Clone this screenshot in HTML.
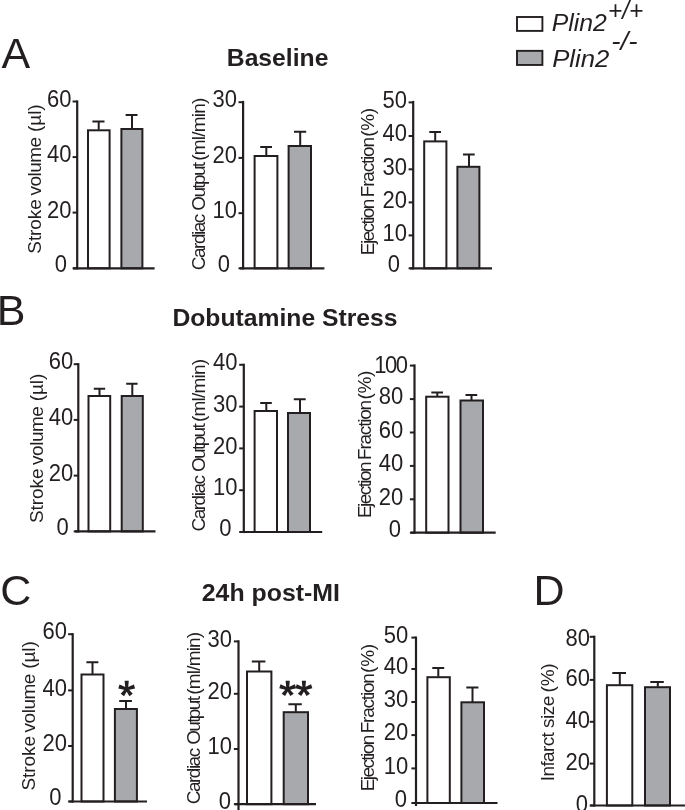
<!DOCTYPE html>
<html><head><meta charset="utf-8"><title>Figure</title>
<style>
html,body{margin:0;padding:0;background:#fff;}
svg{display:block;font-family:"Liberation Sans", sans-serif;fill:#231f20;will-change:transform;transform:translateZ(0);}
</style></head><body>
<svg width="685" height="810" viewBox="0 0 685 810">
<rect x="0" y="0" width="685" height="810" fill="#ffffff"/>
<rect x="88.00" y="130.30" width="21.60" height="138.00" fill="#ffffff" stroke="#231f20" stroke-width="2.0"/>
<rect x="121.40" y="129.00" width="21.00" height="139.30" fill="#a7a9ac" stroke="#231f20" stroke-width="2.0"/>
<path d="M98.70 129.80V121.60M92.40 121.60H104.50" stroke="#231f20" stroke-width="2" fill="none"/>
<path d="M132.00 128.50V115.00M125.60 115.00H137.50" stroke="#231f20" stroke-width="2" fill="none"/>
<path d="M77.20 100.40V269.40" stroke="#231f20" stroke-width="2.2" fill="none"/>
<path d="M73.00 268.30H154.60" stroke="#231f20" stroke-width="2.2" fill="none"/>
<path d="M72.60 101.50H77.20" stroke="#231f20" stroke-width="2" fill="none"/>
<text transform="translate(71.50 106.70) scale(1 1.07)" font-size="22" text-anchor="end">60</text>
<path d="M72.60 157.10H77.20" stroke="#231f20" stroke-width="2" fill="none"/>
<text transform="translate(71.50 162.30) scale(1 1.07)" font-size="22" text-anchor="end">40</text>
<path d="M72.60 212.60H77.20" stroke="#231f20" stroke-width="2" fill="none"/>
<text transform="translate(71.50 217.80) scale(1 1.07)" font-size="22" text-anchor="end">20</text>
<path d="M72.60 268.30H77.20" stroke="#231f20" stroke-width="2" fill="none"/>
<text transform="translate(66.90 272.10) scale(1 1.07)" font-size="22" text-anchor="end">0</text>
<text transform="translate(41.00 253.70) rotate(-90)" font-size="19" textLength="54.50" lengthAdjust="spacing">Stroke</text>
<text transform="translate(41.00 195.60) rotate(-90)" font-size="19" textLength="58.80" lengthAdjust="spacing">volume</text>
<text transform="translate(41.00 131.90) rotate(-90)" font-size="19" textLength="27.50" lengthAdjust="spacing">(µl)</text>
<rect x="254.60" y="156.00" width="22.80" height="112.30" fill="#ffffff" stroke="#231f20" stroke-width="2.0"/>
<rect x="288.60" y="146.00" width="22.40" height="122.30" fill="#a7a9ac" stroke="#231f20" stroke-width="2.0"/>
<path d="M266.30 155.50V147.00M260.20 147.00H272.00" stroke="#231f20" stroke-width="2" fill="none"/>
<path d="M300.20 145.50V131.70M294.00 131.70H306.20" stroke="#231f20" stroke-width="2" fill="none"/>
<path d="M243.10 100.90V269.40" stroke="#231f20" stroke-width="2.2" fill="none"/>
<path d="M239.80 268.30H324.40" stroke="#231f20" stroke-width="2.2" fill="none"/>
<path d="M238.50 102.20H243.10" stroke="#231f20" stroke-width="2" fill="none"/>
<text transform="translate(237.00 107.40) scale(1 1.07)" font-size="22" text-anchor="end">30</text>
<path d="M238.50 157.90H243.10" stroke="#231f20" stroke-width="2" fill="none"/>
<text transform="translate(237.00 163.10) scale(1 1.07)" font-size="22" text-anchor="end">20</text>
<path d="M238.50 213.20H243.10" stroke="#231f20" stroke-width="2" fill="none"/>
<text transform="translate(237.00 218.40) scale(1 1.07)" font-size="22" text-anchor="end">10</text>
<path d="M238.50 268.30H243.10" stroke="#231f20" stroke-width="2" fill="none"/>
<text transform="translate(230.00 272.10) scale(1 1.07)" font-size="22" text-anchor="end">0</text>
<text transform="translate(204.50 270.20) rotate(-90)" font-size="19" textLength="56.50" lengthAdjust="spacing">Cardiac</text>
<text transform="translate(204.50 210.70) rotate(-90)" font-size="19" textLength="48.80" lengthAdjust="spacing">Output</text>
<text transform="translate(204.50 160.70) rotate(-90)" font-size="19" textLength="63.00" lengthAdjust="spacing">(ml/min)</text>
<rect x="424.20" y="141.40" width="22.20" height="126.90" fill="#ffffff" stroke="#231f20" stroke-width="2.0"/>
<rect x="457.40" y="166.80" width="22.00" height="101.50" fill="#a7a9ac" stroke="#231f20" stroke-width="2.0"/>
<path d="M435.20 140.90V132.00M429.30 132.00H441.00" stroke="#231f20" stroke-width="2" fill="none"/>
<path d="M469.00 166.30V154.50M463.00 154.50H474.70" stroke="#231f20" stroke-width="2" fill="none"/>
<path d="M413.20 100.90V269.40" stroke="#231f20" stroke-width="2.2" fill="none"/>
<path d="M410.00 268.30H492.00" stroke="#231f20" stroke-width="2.2" fill="none"/>
<path d="M408.60 102.40H413.20" stroke="#231f20" stroke-width="2" fill="none"/>
<text transform="translate(407.00 107.60) scale(1 1.07)" font-size="22" text-anchor="end">50</text>
<path d="M408.60 136.00H413.20" stroke="#231f20" stroke-width="2" fill="none"/>
<text transform="translate(407.00 141.20) scale(1 1.07)" font-size="22" text-anchor="end">40</text>
<path d="M408.60 169.30H413.20" stroke="#231f20" stroke-width="2" fill="none"/>
<text transform="translate(407.00 174.50) scale(1 1.07)" font-size="22" text-anchor="end">30</text>
<path d="M408.60 202.40H413.20" stroke="#231f20" stroke-width="2" fill="none"/>
<text transform="translate(407.00 207.60) scale(1 1.07)" font-size="22" text-anchor="end">20</text>
<path d="M408.60 235.40H413.20" stroke="#231f20" stroke-width="2" fill="none"/>
<text transform="translate(407.00 240.60) scale(1 1.07)" font-size="22" text-anchor="end">10</text>
<path d="M408.60 268.30H413.20" stroke="#231f20" stroke-width="2" fill="none"/>
<text transform="translate(400.00 272.10) scale(1 1.07)" font-size="22" text-anchor="end">0</text>
<text transform="translate(373.50 255.20) rotate(-90)" font-size="19" textLength="56.60" lengthAdjust="spacing">Ejection</text>
<text transform="translate(373.50 197.20) rotate(-90)" font-size="19" textLength="60.20" lengthAdjust="spacing">Fraction</text>
<text transform="translate(373.50 136.80) rotate(-90)" font-size="19" textLength="29.00" lengthAdjust="spacing">(%)</text>
<rect x="88.50" y="396.00" width="21.70" height="135.40" fill="#ffffff" stroke="#231f20" stroke-width="2.0"/>
<rect x="121.70" y="396.00" width="21.10" height="135.40" fill="#a7a9ac" stroke="#231f20" stroke-width="2.0"/>
<path d="M99.50 395.50V388.70M93.80 388.70H105.20" stroke="#231f20" stroke-width="2" fill="none"/>
<path d="M132.30 395.50V383.70M126.20 383.70H137.60" stroke="#231f20" stroke-width="2" fill="none"/>
<path d="M78.30 363.10V532.50" stroke="#231f20" stroke-width="2.2" fill="none"/>
<path d="M75.00 531.40H155.50" stroke="#231f20" stroke-width="2.2" fill="none"/>
<path d="M73.70 364.20H78.30" stroke="#231f20" stroke-width="2" fill="none"/>
<text transform="translate(73.30 369.40) scale(1 1.07)" font-size="22" text-anchor="end">60</text>
<path d="M73.70 419.90H78.30" stroke="#231f20" stroke-width="2" fill="none"/>
<text transform="translate(73.30 425.10) scale(1 1.07)" font-size="22" text-anchor="end">40</text>
<path d="M73.70 475.60H78.30" stroke="#231f20" stroke-width="2" fill="none"/>
<text transform="translate(73.30 480.80) scale(1 1.07)" font-size="22" text-anchor="end">20</text>
<path d="M73.70 531.40H78.30" stroke="#231f20" stroke-width="2" fill="none"/>
<text transform="translate(68.80 535.20) scale(1 1.07)" font-size="22" text-anchor="end">0</text>
<text transform="translate(43.30 523.00) rotate(-90)" font-size="19" textLength="54.50" lengthAdjust="spacing">Stroke</text>
<text transform="translate(43.30 464.90) rotate(-90)" font-size="19" textLength="58.80" lengthAdjust="spacing">volume</text>
<text transform="translate(43.30 401.20) rotate(-90)" font-size="19" textLength="27.50" lengthAdjust="spacing">(µl)</text>
<rect x="254.60" y="411.00" width="22.40" height="121.00" fill="#ffffff" stroke="#231f20" stroke-width="2.0"/>
<rect x="288.00" y="413.00" width="22.00" height="119.00" fill="#a7a9ac" stroke="#231f20" stroke-width="2.0"/>
<path d="M266.30 410.50V403.00M260.20 403.00H271.80" stroke="#231f20" stroke-width="2" fill="none"/>
<path d="M300.00 412.50V399.20M293.80 399.20H305.70" stroke="#231f20" stroke-width="2" fill="none"/>
<path d="M243.80 363.70V533.10" stroke="#231f20" stroke-width="2.2" fill="none"/>
<path d="M240.20 532.00H322.20" stroke="#231f20" stroke-width="2.2" fill="none"/>
<path d="M239.20 364.80H243.80" stroke="#231f20" stroke-width="2" fill="none"/>
<text transform="translate(237.50 370.00) scale(1 1.07)" font-size="22" text-anchor="end">40</text>
<path d="M239.20 406.60H243.80" stroke="#231f20" stroke-width="2" fill="none"/>
<text transform="translate(237.50 411.80) scale(1 1.07)" font-size="22" text-anchor="end">30</text>
<path d="M239.20 448.40H243.80" stroke="#231f20" stroke-width="2" fill="none"/>
<text transform="translate(237.50 453.60) scale(1 1.07)" font-size="22" text-anchor="end">20</text>
<path d="M239.20 490.20H243.80" stroke="#231f20" stroke-width="2" fill="none"/>
<text transform="translate(237.50 495.40) scale(1 1.07)" font-size="22" text-anchor="end">10</text>
<path d="M239.20 532.00H243.80" stroke="#231f20" stroke-width="2" fill="none"/>
<text transform="translate(231.50 535.80) scale(1 1.07)" font-size="22" text-anchor="end">0</text>
<text transform="translate(204.50 531.50) rotate(-90)" font-size="19" textLength="56.50" lengthAdjust="spacing">Cardiac</text>
<text transform="translate(204.50 472.00) rotate(-90)" font-size="19" textLength="48.80" lengthAdjust="spacing">Output</text>
<text transform="translate(204.50 422.00) rotate(-90)" font-size="19" textLength="63.00" lengthAdjust="spacing">(ml/min)</text>
<rect x="426.20" y="396.70" width="22.30" height="136.00" fill="#ffffff" stroke="#231f20" stroke-width="2.0"/>
<rect x="460.50" y="400.50" width="22.50" height="132.20" fill="#a7a9ac" stroke="#231f20" stroke-width="2.0"/>
<path d="M437.30 396.20V392.50M431.30 392.50H443.00" stroke="#231f20" stroke-width="2" fill="none"/>
<path d="M471.50 400.00V395.00M465.50 395.00H477.20" stroke="#231f20" stroke-width="2" fill="none"/>
<path d="M414.50 364.40V533.80" stroke="#231f20" stroke-width="2.2" fill="none"/>
<path d="M410.70 532.70H495.70" stroke="#231f20" stroke-width="2.2" fill="none"/>
<path d="M409.90 365.60H414.50" stroke="#231f20" stroke-width="2" fill="none"/>
<text transform="translate(407.90 372.60) scale(1 1.07)" font-size="22" text-anchor="end" textLength="33.6" lengthAdjust="spacing">100</text>
<path d="M409.90 399.10H414.50" stroke="#231f20" stroke-width="2" fill="none"/>
<text transform="translate(403.20 404.30) scale(1 1.07)" font-size="22" text-anchor="end">80</text>
<path d="M409.90 432.50H414.50" stroke="#231f20" stroke-width="2" fill="none"/>
<text transform="translate(403.20 437.70) scale(1 1.07)" font-size="22" text-anchor="end">60</text>
<path d="M409.90 465.90H414.50" stroke="#231f20" stroke-width="2" fill="none"/>
<text transform="translate(403.20 471.10) scale(1 1.07)" font-size="22" text-anchor="end">40</text>
<path d="M409.90 499.30H414.50" stroke="#231f20" stroke-width="2" fill="none"/>
<text transform="translate(403.20 504.50) scale(1 1.07)" font-size="22" text-anchor="end">20</text>
<path d="M409.90 532.70H414.50" stroke="#231f20" stroke-width="2" fill="none"/>
<text transform="translate(401.00 536.50) scale(1 1.07)" font-size="22" text-anchor="end">0</text>
<text transform="translate(370.80 518.00) rotate(-90)" font-size="19" textLength="56.60" lengthAdjust="spacing">Ejection</text>
<text transform="translate(370.80 460.00) rotate(-90)" font-size="19" textLength="60.20" lengthAdjust="spacing">Fraction</text>
<text transform="translate(370.80 399.60) rotate(-90)" font-size="19" textLength="29.00" lengthAdjust="spacing">(%)</text>
<rect x="81.50" y="674.50" width="22.00" height="127.00" fill="#ffffff" stroke="#231f20" stroke-width="2.0"/>
<rect x="114.90" y="709.00" width="22.00" height="92.50" fill="#a7a9ac" stroke="#231f20" stroke-width="2.0"/>
<path d="M92.50 674.00V662.20M86.40 662.20H98.40" stroke="#231f20" stroke-width="2" fill="none"/>
<path d="M126.00 708.80V701.00M119.20 701.00H131.90" stroke="#231f20" stroke-width="2" fill="none"/>
<path d="M72.70 633.10V802.60" stroke="#231f20" stroke-width="2.2" fill="none"/>
<path d="M69.20 801.50H147.00" stroke="#231f20" stroke-width="2.2" fill="none"/>
<path d="M68.10 634.20H72.70" stroke="#231f20" stroke-width="2" fill="none"/>
<text transform="translate(67.00 639.40) scale(1 1.07)" font-size="22" text-anchor="end">60</text>
<path d="M68.10 690.40H72.70" stroke="#231f20" stroke-width="2" fill="none"/>
<text transform="translate(67.00 695.60) scale(1 1.07)" font-size="22" text-anchor="end">40</text>
<path d="M68.10 746.00H72.70" stroke="#231f20" stroke-width="2" fill="none"/>
<text transform="translate(67.00 751.20) scale(1 1.07)" font-size="22" text-anchor="end">20</text>
<path d="M68.10 801.50H72.70" stroke="#231f20" stroke-width="2" fill="none"/>
<text transform="translate(61.40 805.30) scale(1 1.07)" font-size="22" text-anchor="end">0</text>
<text transform="translate(35.00 790.50) rotate(-90)" font-size="19" textLength="54.50" lengthAdjust="spacing">Stroke</text>
<text transform="translate(35.00 732.40) rotate(-90)" font-size="19" textLength="58.80" lengthAdjust="spacing">volume</text>
<text transform="translate(35.00 668.70) rotate(-90)" font-size="19" textLength="27.50" lengthAdjust="spacing">(µl)</text>
<rect x="247.00" y="671.50" width="24.40" height="132.70" fill="#ffffff" stroke="#231f20" stroke-width="2.0"/>
<rect x="283.70" y="712.20" width="24.30" height="92.00" fill="#a7a9ac" stroke="#231f20" stroke-width="2.0"/>
<path d="M259.20 671.00V661.40M251.80 661.40H265.40" stroke="#231f20" stroke-width="2" fill="none"/>
<path d="M295.80 711.70V704.30M288.40 704.30H301.80" stroke="#231f20" stroke-width="2" fill="none"/>
<path d="M238.50 640.30V812.00" stroke="#231f20" stroke-width="2.2" fill="none"/>
<path d="M234.70 804.20H316.00" stroke="#231f20" stroke-width="2.2" fill="none"/>
<path d="M233.90 641.40H238.50" stroke="#231f20" stroke-width="2" fill="none"/>
<text transform="translate(232.00 646.60) scale(1 1.07)" font-size="22" text-anchor="end">30</text>
<path d="M233.90 693.80H238.50" stroke="#231f20" stroke-width="2" fill="none"/>
<text transform="translate(232.00 699.00) scale(1 1.07)" font-size="22" text-anchor="end">20</text>
<path d="M233.90 749.00H238.50" stroke="#231f20" stroke-width="2" fill="none"/>
<text transform="translate(232.00 754.20) scale(1 1.07)" font-size="22" text-anchor="end">10</text>
<path d="M233.90 804.20H238.50" stroke="#231f20" stroke-width="2" fill="none"/>
<text transform="translate(231.00 809.00) scale(1 1.07)" font-size="22" text-anchor="end">0</text>
<text transform="translate(199.50 804.30) rotate(-90)" font-size="19" textLength="56.50" lengthAdjust="spacing">Cardiac</text>
<text transform="translate(199.50 744.80) rotate(-90)" font-size="19" textLength="48.80" lengthAdjust="spacing">Output</text>
<text transform="translate(199.50 694.80) rotate(-90)" font-size="19" textLength="63.00" lengthAdjust="spacing">(ml/min)</text>
<rect x="427.40" y="677.20" width="22.40" height="125.80" fill="#ffffff" stroke="#231f20" stroke-width="2.0"/>
<rect x="461.40" y="702.30" width="22.60" height="100.70" fill="#a7a9ac" stroke="#231f20" stroke-width="2.0"/>
<path d="M438.30 676.70V668.00M432.30 668.00H444.20" stroke="#231f20" stroke-width="2" fill="none"/>
<path d="M472.50 702.00V687.50M466.30 687.50H478.40" stroke="#231f20" stroke-width="2" fill="none"/>
<path d="M416.00 636.50V806.00" stroke="#231f20" stroke-width="2.2" fill="none"/>
<path d="M412.00 803.00H497.50" stroke="#231f20" stroke-width="2.2" fill="none"/>
<path d="M411.40 637.60H416.00" stroke="#231f20" stroke-width="2" fill="none"/>
<text transform="translate(408.30 642.80) scale(1 1.07)" font-size="22" text-anchor="end">50</text>
<path d="M411.40 669.00H416.00" stroke="#231f20" stroke-width="2" fill="none"/>
<text transform="translate(408.30 674.20) scale(1 1.07)" font-size="22" text-anchor="end">40</text>
<path d="M411.40 702.00H416.00" stroke="#231f20" stroke-width="2" fill="none"/>
<text transform="translate(408.30 707.20) scale(1 1.07)" font-size="22" text-anchor="end">30</text>
<path d="M411.40 735.10H416.00" stroke="#231f20" stroke-width="2" fill="none"/>
<text transform="translate(408.30 740.30) scale(1 1.07)" font-size="22" text-anchor="end">20</text>
<path d="M411.40 768.40H416.00" stroke="#231f20" stroke-width="2" fill="none"/>
<text transform="translate(408.30 773.60) scale(1 1.07)" font-size="22" text-anchor="end">10</text>
<path d="M411.40 803.00H416.00" stroke="#231f20" stroke-width="2" fill="none"/>
<text transform="translate(407.00 806.80) scale(1 1.07)" font-size="22" text-anchor="end">0</text>
<text transform="translate(373.80 791.30) rotate(-90)" font-size="19" textLength="56.60" lengthAdjust="spacing">Ejection</text>
<text transform="translate(373.80 733.30) rotate(-90)" font-size="19" textLength="60.20" lengthAdjust="spacing">Fraction</text>
<text transform="translate(373.80 672.90) rotate(-90)" font-size="19" textLength="29.00" lengthAdjust="spacing">(%)</text>
<rect x="606.90" y="685.20" width="25.40" height="120.30" fill="#ffffff" stroke="#231f20" stroke-width="2.0"/>
<rect x="645.00" y="687.20" width="25.00" height="118.30" fill="#a7a9ac" stroke="#231f20" stroke-width="2.0"/>
<path d="M619.80 684.70V673.00M612.30 673.00H626.00" stroke="#231f20" stroke-width="2" fill="none"/>
<path d="M657.80 686.70V682.00M650.30 682.00H663.80" stroke="#231f20" stroke-width="2" fill="none"/>
<path d="M594.30 635.70V806.60" stroke="#231f20" stroke-width="2.2" fill="none"/>
<path d="M590.20 805.50H686.00" stroke="#231f20" stroke-width="2.2" fill="none"/>
<path d="M589.70 636.80H594.30" stroke="#231f20" stroke-width="2" fill="none"/>
<text transform="translate(589.90 645.60) scale(1 1.07)" font-size="22" text-anchor="end">80</text>
<path d="M589.70 679.90H594.30" stroke="#231f20" stroke-width="2" fill="none"/>
<text transform="translate(589.90 686.30) scale(1 1.07)" font-size="22" text-anchor="end">60</text>
<path d="M589.70 721.80H594.30" stroke="#231f20" stroke-width="2" fill="none"/>
<text transform="translate(589.90 728.20) scale(1 1.07)" font-size="22" text-anchor="end">40</text>
<path d="M589.70 763.60H594.30" stroke="#231f20" stroke-width="2" fill="none"/>
<text transform="translate(589.90 770.00) scale(1 1.07)" font-size="22" text-anchor="end">20</text>
<path d="M589.70 805.50H594.30" stroke="#231f20" stroke-width="2" fill="none"/>
<text transform="translate(588.00 812.30) scale(1 1.07)" font-size="22" text-anchor="end">0</text>
<text transform="translate(554.00 781.20) rotate(-90)" font-size="19" textLength="49.00" lengthAdjust="spacing">Infarct</text>
<text transform="translate(554.00 728.00) rotate(-90)" font-size="19" textLength="32.40" lengthAdjust="spacing">size</text>
<text transform="translate(554.00 692.40) rotate(-90)" font-size="19" textLength="29.00" lengthAdjust="spacing">(%)</text>
<text x="1.5" y="68.2" font-size="43">A</text>
<text x="-3.2" y="325.0" font-size="43">B</text>
<text x="0.2" y="605.0" font-size="43">C</text>
<text x="533.6" y="604.7" font-size="43">D</text>
<text x="226.8" y="66.3" font-size="24" font-weight="bold" textLength="101.6" lengthAdjust="spacingAndGlyphs">Baseline</text>
<text x="172.4" y="326.0" font-size="24" font-weight="bold" textLength="225.2" lengthAdjust="spacingAndGlyphs">Dobutamine Stress</text>
<text x="201.8" y="600.8" font-size="24" font-weight="bold" textLength="138.1" lengthAdjust="spacingAndGlyphs">24h post-MI</text>
<rect x="517.0" y="17.0" width="25.4" height="13.9" fill="#fff" stroke="#231f20" stroke-width="1.9"/>
<rect x="517.0" y="50.85" width="25.4" height="14.1" fill="#a7a9ac" stroke="#231f20" stroke-width="1.9"/>
<text x="551.7" y="30.5" font-size="24" font-style="italic" textLength="55.1" lengthAdjust="spacingAndGlyphs">Plin2</text>
<text x="608.0" y="18.6" font-size="26" font-style="italic" textLength="35.3" lengthAdjust="spacingAndGlyphs">+/+</text>
<text x="552.2" y="66.6" font-size="24" font-style="italic" textLength="57.2" lengthAdjust="spacingAndGlyphs">Plin2</text>
<text x="611.2" y="50.3" font-size="26" font-style="italic" textLength="26.3" lengthAdjust="spacingAndGlyphs">-/-</text>
<path d="M128.00 689.00L128.80 680.80L124.60 680.80L125.40 689.00ZM127.10 690.24L135.15 688.46L133.85 684.47L126.30 687.76ZM125.65 689.76L129.34 696.20L132.74 693.74L127.75 688.24ZM125.65 688.24L120.66 693.74L124.06 696.20L127.75 689.76ZM127.10 687.76L119.55 684.47L118.25 688.46L126.30 690.24Z" fill="#231f20" stroke="none"/>
<circle cx="126.70" cy="689.00" r="2.21" fill="#231f20"/>
<path d="M289.00 688.90L289.80 680.70L285.60 680.70L286.40 688.90ZM288.10 690.14L296.15 688.36L294.85 684.37L287.30 687.66ZM286.65 689.66L290.34 696.10L293.74 693.64L288.75 688.14ZM286.65 688.14L281.66 693.64L285.06 696.10L288.75 689.66ZM288.10 687.66L280.55 684.37L279.25 688.36L287.30 690.14Z" fill="#231f20" stroke="none"/>
<circle cx="287.70" cy="688.90" r="2.21" fill="#231f20"/>
<path d="M305.20 688.90L306.00 680.70L301.80 680.70L302.60 688.90ZM304.30 690.14L312.35 688.36L311.05 684.37L303.50 687.66ZM302.85 689.66L306.54 696.10L309.94 693.64L304.95 688.14ZM302.85 688.14L297.86 693.64L301.26 696.10L304.95 689.66ZM304.30 687.66L296.75 684.37L295.45 688.36L303.50 690.14Z" fill="#231f20" stroke="none"/>
<circle cx="303.90" cy="688.90" r="2.21" fill="#231f20"/>
</svg>
</body></html>
